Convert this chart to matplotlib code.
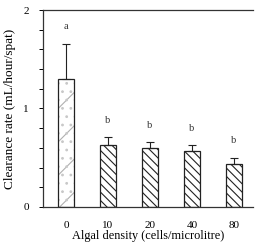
import matplotlib
matplotlib.use("Agg")

import numpy as np
import matplotlib.pyplot as plt

# ------------------ DATA ------------------

densities = ["0", "10", "20", "40", "80"]
clearance = [1.30, 0.63, 0.60, 0.57, 0.44]
errors = [0.36, 0.08, 0.06, 0.06, 0.06]
letters = ["a", "b", "b", "b", "b"]

# ------------------ PLOT ------------------

plt.rcParams["font.family"] = ["Liberation Serif", "DejaVu Serif"]
plt.rcParams["hatch.linewidth"] = 0.8

fig = plt.figure(figsize=(2.57, 2.46), dpi=100)
ax = fig.add_axes([0.167, 0.159, 0.817, 0.8])

x = np.arange(len(densities))

# control bar: faint sparse hatch + dots, drawn under a dark outline
ax.bar(x[0], clearance[0], width=0.38, color="white", edgecolor="#b0b0b0",
       linewidth=0, hatch="/", zorder=2)
ax.bar(x[0], clearance[0], width=0.38, color="none", edgecolor="#c8c8c8",
       linewidth=0, hatch="..", zorder=2)
ax.bar(x[0], clearance[0], width=0.38, fill=False, edgecolor="#222222",
       linewidth=0.9, zorder=3)

# fed bars: dense back-slash hatch
ax.bar(x[1:], clearance[1:], width=0.38, color="white", edgecolor="#222222",
       linewidth=0.9, hatch="\\\\\\\\", zorder=2)

ax.errorbar(x, clearance, yerr=[np.zeros(len(x)), errors], fmt="none",
            ecolor="#222222", capsize=3, elinewidth=0.8, capthick=0.8, zorder=4)

for i in range(len(densities)):
    ax.text(x[i], clearance[i] + errors[i] + 0.17, letters[i], ha="center",
            va="center", fontsize=7.5, color="#333333")

ax.set_xlim(-0.548, 4.452)
ax.set_ylim(0, 2)
ax.set_xticks(x)
ax.set_xticklabels(densities, fontsize=8)
ax.tick_params(axis="x", length=0, pad=10)
ax.set_yticks([0, 1, 2])
ax.set_yticks(np.arange(0, 2.01, 0.2), minor=True)
ax.tick_params(axis="y", which="both", direction="out", length=3, width=0.7,
               labelsize=8, pad=7)

ax.spines["right"].set_visible(False)
for s in ["left", "top", "bottom"]:
    ax.spines[s].set_linewidth(0.9)
    ax.spines[s].set_color("#333333")

ax.set_xlabel("Algal density (cells/microlitre)", fontsize=8.8, labelpad=0)
ax.set_ylabel("Clearance rate (mL/hour/spat)", fontsize=9.5, labelpad=5)

fig.savefig("out.png", dpi=100)
plt.close()
